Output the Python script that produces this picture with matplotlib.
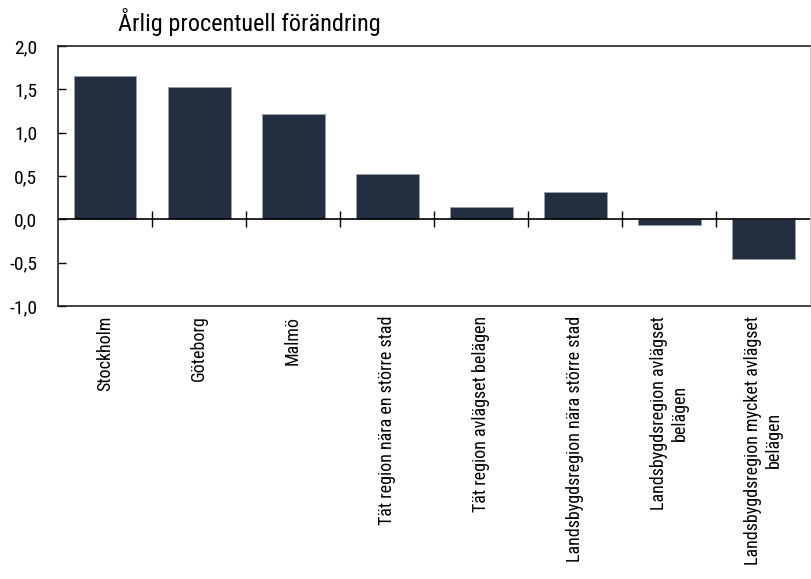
import numpy as np
import matplotlib
matplotlib.use("Agg")
from matplotlib import pyplot as plt

categories = ["Stockholm", "Göteborg", "Malmö",
              "Tät region nära en större stad",
              "Tät region avlägset belägen",
              "Landsbygdsregion nära större stad",
              "Landsbygdsregion avlägset\nbelägen",
              "Landsbygdsregion mycket avlägset\nbelägen"]
values = [1.65, 1.53, 1.21, 0.52, 0.14, 0.32, -0.07, -0.46]
yticks = [-1.0, -0.5, 0.0, 0.5, 1.0, 1.5, 2.0]
title = "Årlig procentuell förändring"

plt.rcParams['font.family'] = ['Roboto Condensed', 'DejaVu Sans']

fig = plt.figure(figsize=(8.11, 5.79), dpi=100)
ax = fig.add_axes([0.0715, 0.4715, 0.9275, 0.449])

x = np.arange(len(categories))
ax.bar(x, values, width=0.67, color='#222d3f', edgecolor='#9aa0a8', linewidth=0.6, zorder=2)

# zero line with category separators
ax.axhline(0, color='black', linewidth=1.2, zorder=3)
ax.plot(x[:-1] + 0.5, np.zeros(len(x) - 1), linestyle='none', marker='|',
        markersize=12, color='black', markeredgewidth=1.0, zorder=3)

ax.set_xlim(-0.5, len(categories) - 0.5)
ax.set_ylim(-1.0, 2.0)
ax.set_yticks(yticks)
ax.set_yticklabels([f"{v:.1f}".replace('.', ',') for v in yticks], fontsize=14)
ax.tick_params(axis='y', direction='in', length=6, width=1, pad=15)

ax.set_xticks(x)
ax.set_xticklabels(categories, rotation=90, fontsize=13, ha='center', va='top',
                   multialignment='center')
ax.tick_params(axis='x', length=0, pad=7)

for side in ['left', 'top', 'bottom']:
    ax.spines[side].set_color('#222222')
    ax.spines[side].set_linewidth(1.2)
ax.spines['right'].set_color('#cccccc')

fig.text(0.145, 0.962, title, fontsize=17.5, ha='left', va='center')

fig.savefig("out.png", dpi=100)
